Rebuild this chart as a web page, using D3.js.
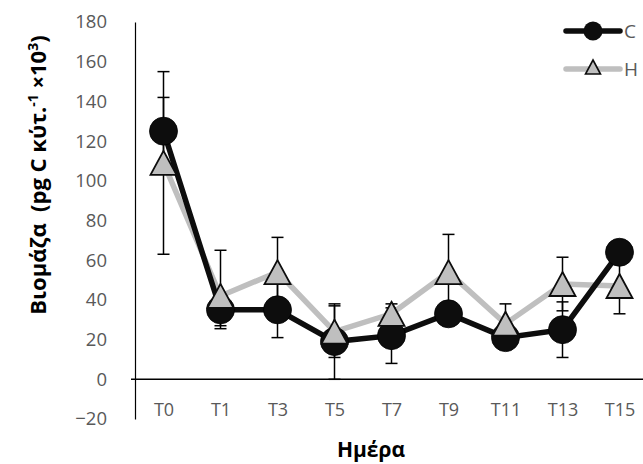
<!DOCTYPE html>
<html><head><meta charset="utf-8">
<script src="https://cdn.jsdelivr.net/npm/d3@7/dist/d3.min.js"></script>
<style>body{margin:0;background:#fff}svg{display:block}</style>
</head><body>
<svg id="chart" width="643" height="464"></svg>
<script>
const categories = ["T0","T1","T3","T5","T7","T9","T11","T13","T15"];
const valuesC = [125, 35, 35, 19, 22, 33, 21, 25, 64];
const errUpC  = [17, 8, 14, 19, 14, 6, 6, 14, 5];
const errDnC  = [17, 8, 14, 19, 14, 6, 6, 14, 5];
const valuesH = [109, 42, 54, 24, 33, 54, 28, 48, 47];
const errUpH  = [46, 23, 17.5, 13, 5, 19, 10, 13.5, 14];
const errDnH  = [46, 16.5, 17.5, 13, 5, 19, 10, 13.5, 14];
const yTicks = [-20, 0, 20, 40, 60, 80, 100, 120, 140, 160, 180];
const seriesNames = ["C", "H"];

const svg = d3.select("#chart");
const x = d3.scalePoint().domain(categories).range([135, 648]).padding(0.5);
const y = d3.scaleLinear().domain([-20, 180]).range([419, 22]);
const font = "'Open Sans', sans-serif";

// y axis
const yAxis = d3.axisLeft(y).tickValues(yTicks).tickSize(0).tickPadding(28);
const gy = svg.append("g").attr("transform", "translate(135,0)").call(yAxis);
gy.select(".domain").attr("stroke", "#000").attr("stroke-width", 1.2);
gy.selectAll("text").attr("font-family", font).attr("font-size", 18.5).attr("fill", "#595959");

// x axis line at 0
svg.append("line").attr("x1", 131).attr("x2", 643).attr("y1", y(0)).attr("y2", y(0))
  .attr("stroke", "#000").attr("stroke-width", 1.5);
// x tick labels at low position
const xAxis = d3.axisBottom(x).tickSize(0).tickPadding(0);
const gx = svg.append("g").attr("transform", "translate(0,403)").call(xAxis);
gx.select(".domain").remove();
gx.selectAll("text").attr("font-family", font).attr("font-size", 18).attr("fill", "#595959");

// titles
svg.append("text").attr("x", 371).attr("y", 457).attr("text-anchor", "middle")
  .attr("font-family", font).attr("font-weight", "bold").attr("font-size", 21).attr("fill", "#000")
  .text("Ημέρα");
const yl = svg.append("text").attr("transform", "translate(46,175) rotate(-90)")
  .attr("text-anchor", "middle").attr("font-family", font).attr("font-weight", "bold")
  .attr("font-size", 22).attr("fill", "#000");
yl.append("tspan").text("Βιομάζα\u00a0\u00a0(pg C κύτ.");
yl.append("tspan").attr("dy", -8).attr("font-size", 14).text("-1");
yl.append("tspan").attr("dy", 8).text("\u00a0×10");
yl.append("tspan").attr("dy", -8).attr("font-size", 14).text("3");
yl.append("tspan").attr("dy", 8).text(")");

function rows(vals, up, dn) {
  return categories.map((c, i) => ({c, v: vals[i], hi: vals[i] + up[i], lo: vals[i] - dn[i]}));
}
const dC = rows(valuesC, errUpC, errDnC);
const dH = rows(valuesH, errUpH, errDnH);

// error bars
function errBars(data) {
  const g = svg.append("g").attr("stroke", "#000").attr("stroke-width", 1.5);
  data.forEach(d => {
    g.append("line").attr("x1", x(d.c)).attr("x2", x(d.c)).attr("y1", y(d.hi)).attr("y2", y(d.lo));
    g.append("line").attr("x1", x(d.c) - 6).attr("x2", x(d.c) + 6).attr("y1", y(d.hi)).attr("y2", y(d.hi));
    g.append("line").attr("x1", x(d.c) - 6).attr("x2", x(d.c) + 6).attr("y1", y(d.lo)).attr("y2", y(d.lo));
  });
}
errBars(dC);
errBars(dH);

const line = d3.line().x(d => x(d.c)).y(d => y(d.v));
svg.append("path").datum(dH).attr("d", line).attr("fill", "none").attr("stroke", "#bfbfbf").attr("stroke-width", 5.5);
svg.append("path").datum(dC).attr("d", line).attr("fill", "none").attr("stroke", "#0d0d0d").attr("stroke-width", 5.5);

svg.append("g").selectAll("circle").data(dC).join("circle")
  .attr("cx", d => x(d.c)).attr("cy", d => y(d.v)).attr("r", 14)
  .attr("fill", "#0d0d0d").attr("stroke", "#000").attr("stroke-width", 0.8);
function triPath(w, h) {
  return `M0,${-h/2}L${w/2},${h/2}L${-w/2},${h/2}Z`;
}
svg.append("g").selectAll("path").data(dH).join("path")
  .attr("transform", d => `translate(${x(d.c)},${y(d.v)})`)
  .attr("d", triPath(26, 24)).attr("fill", "#bfbfbf").attr("stroke", "#0d0d0d").attr("stroke-width", 1.8)
  .attr("stroke-linejoin", "miter");

// legend
const lg = svg.append("g");
lg.append("line").attr("x1", 566).attr("x2", 620).attr("y1", 31).attr("y2", 31)
  .attr("stroke", "#0d0d0d").attr("stroke-width", 5.5).attr("stroke-linecap", "round");
lg.append("circle").attr("cx", 593).attr("cy", 31).attr("r", 9.5).attr("fill", "#0d0d0d");
lg.append("text").attr("x", 624).attr("y", 38).attr("font-family", font).attr("font-size", 19)
  .attr("fill", "#595959").text(seriesNames[0]);
lg.append("line").attr("x1", 566).attr("x2", 620).attr("y1", 69).attr("y2", 69)
  .attr("stroke", "#bfbfbf").attr("stroke-width", 5.5).attr("stroke-linecap", "round");
lg.append("path").attr("transform", "translate(593,67)").attr("d", triPath(15, 14))
  .attr("fill", "#bfbfbf").attr("stroke", "#0d0d0d").attr("stroke-width", 1.6);
lg.append("text").attr("x", 624).attr("y", 76).attr("font-family", font).attr("font-size", 19)
  .attr("fill", "#595959").text(seriesNames[1]);
</script>
</body></html>
